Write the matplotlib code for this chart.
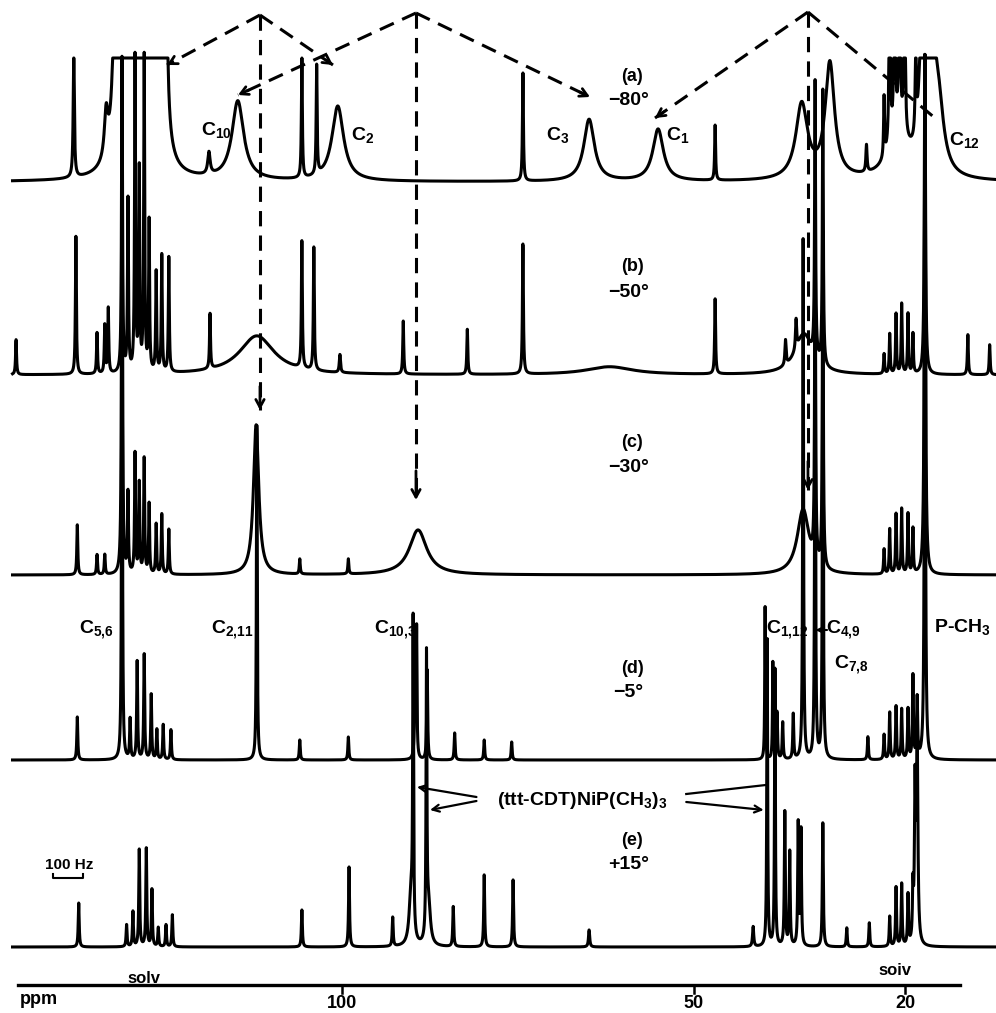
import numpy as np
import matplotlib.pyplot as plt

plt.rcParams['font.family'] = ['Liberation Sans', 'DejaVu Sans']
plt.rcParams['font.weight'] = 'bold'
plt.rcParams['mathtext.fontset'] = 'custom'
plt.rcParams['mathtext.rm'] = 'Liberation Sans:bold'
plt.rcParams['mathtext.it'] = 'Liberation Sans:bold'
plt.rcParams['mathtext.bf'] = 'Liberation Sans:bold'

# ---- peak lists: shift (ppm), height, half width (ppm)
# (a) -80 deg
a_ppm = [138.1, 133.5, 132.0, 131.25, 130.4, 129.4, 128.8, 128.1, 127.4, 126.4, 125.6, 125.1,
         118.9, 114.8, 105.7, 103.6, 100.6, 74.3, 64.9, 55.1, 47.0, 34.7, 30.7, 25.5,
         23.0, 22.2, 21.5, 20.8, 20.1, 21.0, 18.5, 17.4, 16.4, 15.3]
a_h = [124, 45, 400, 400, 400, 400, 400, 400, 400, 400, 400, 400,
       22, 79, 120, 109, 75, 108, 62, 52, 55, 75, 115, 27,
       60, 300, 300, 300, 300, 50, 82, 400, 400, 70]
a_w = [0.1, 0.3, 0.3, 0.3, 0.3, 0.3, 0.3, 0.3, 0.3, 0.3, 0.3, 0.15,
       0.2, 1.0, 0.08, 0.08, 1.0, 0.08, 0.9, 0.9, 0.08, 1.0, 0.8, 0.1,
       0.08, 0.08, 0.08, 0.08, 0.08, 1.5, 0.1, 0.3, 0.3, 0.9]

# (b) -50 deg
b_ppm = [146.3, 137.8, 134.8, 133.7, 133.2, 131.25, 130.4, 129.4, 128.8, 128.1, 127.4, 126.4,
         125.6, 124.6, 118.75, 112.1, 105.7, 104.0, 100.3, 91.3, 82.2, 74.3, 62.0, 47.0,
         37.0, 35.5, 34.4, 32.8, 31.7, 23.0, 22.2, 21.3, 20.5, 19.6, 18.9, 17.2, 11.1, 8.0]
b_h = [35, 138, 41, 48, 65, 315, 172, 315, 200, 315, 150, 100,
       117, 115, 55, 39, 127, 123, 18, 53, 45, 130, 8, 75,
       25, 30, 40, 275, 275, 20, 40, 60, 70, 60, 40, 320, 40, 30]
b_w = [0.08, 0.08, 0.08, 0.08, 0.08, 0.08, 0.08, 0.08, 0.08, 0.08, 0.08, 0.08,
       0.08, 0.08, 0.08, 3.0, 0.08, 0.08, 0.1, 0.08, 0.08, 0.08, 4.0, 0.08,
       0.1, 0.1, 1.5, 0.08, 0.08, 0.08, 0.08, 0.08, 0.08, 0.08, 0.08, 0.1, 0.08, 0.08]

# (c) -30 deg
c_ppm = [137.6, 134.8, 133.7, 131.25, 130.4, 129.4, 128.8, 128.1, 127.4, 126.4, 125.6, 124.6,
         112.2, 106.0, 99.1, 89.2, 34.5, 32.8, 31.7, 23.0, 22.2, 21.3, 20.5, 19.6, 18.9, 17.2]
c_h = [50, 20, 20, 500, 80, 120, 90, 115, 70, 50, 60, 45,
       150, 15, 15, 45, 65, 335, 335, 25, 45, 60, 65, 60, 45, 520]
c_w = [0.08, 0.08, 0.08, 0.08, 0.08, 0.08, 0.08, 0.08, 0.08, 0.08, 0.08, 0.08,
       0.45, 0.08, 0.08, 1.5, 1.0, 0.08, 0.08, 0.08, 0.08, 0.08, 0.08, 0.08, 0.08, 0.1]

# (d) -5 deg
d_ppm = [137.6, 131.25, 130.1, 129.1, 128.1, 127.1, 126.3, 125.4, 124.3, 112.1, 106.0, 99.1,
         89.6, 89.4, 87.9, 84.0, 79.8, 75.9, 39.9, 38.8, 38.2, 37.4, 35.9, 34.5, 32.8, 31.7,
         25.3, 23.0, 22.2, 21.3, 20.5, 19.6, 18.9, 18.3, 17.2]
d_h = [43, 700, 40, 98, 105, 65, 30, 35, 30, 335, 20, 23,
       80, 120, 90, 27, 20, 18, 153, 97, 47, 37, 45, 520, 520, 520,
       23, 25, 47, 53, 50, 50, 83, 60, 705]
d_w = [0.08, 0.06, 0.08, 0.08, 0.08, 0.08, 0.08, 0.08, 0.08, 0.07, 0.08, 0.08,
       0.1, 0.06, 0.08, 0.08, 0.08, 0.08, 0.06, 0.06, 0.08, 0.08, 0.08, 0.07, 0.07, 0.07,
       0.08, 0.08, 0.08, 0.08, 0.08, 0.08, 0.08, 0.08, 0.08]

# (e) +15 deg
e_ppm = [137.4, 130.6, 129.7, 128.8, 127.8, 127.0, 126.1, 125.0, 124.1, 105.7, 99.0, 92.8,
         90.2, 89.9, 88.0, 87.7, 84.2, 79.8, 75.7, 64.9, 41.6, 39.6, 38.5, 37.1, 36.4, 35.2,
         34.8, 31.7, 28.3, 25.1, 22.2, 21.3, 20.5, 19.6, 18.9, 18.6, 18.3]
e_h = [44, 22, 35, 97, 98, 57, 19, 22, 32, 37, 80, 29,
       52, 307, 277, 42, 40, 72, 67, 17, 20, 307, 277, 134, 94, 122,
       115, 124, 19, 24, 30, 59, 62, 50, 50, 150, 207]
e_w = [0.08, 0.08, 0.08, 0.08, 0.08, 0.08, 0.08, 0.08, 0.08, 0.08, 0.08, 0.08,
       0.3, 0.07, 0.07, 0.3, 0.08, 0.08, 0.08, 0.1, 0.1, 0.07, 0.07, 0.08, 0.08, 0.08,
       0.08, 0.08, 0.08, 0.08, 0.08, 0.08, 0.08, 0.08, 0.08, 0.1, 0.12]

spectra = [(a_ppm, a_h, a_w), (b_ppm, b_h, b_w), (c_ppm, c_h, c_w),
           (d_ppm, d_h, d_w), (e_ppm, e_h, e_w)]
baselines = [182, 375, 575, 760, 947]
clips = [124, None, None, None, None]
run_ids = ['(a)', '(b)', '(c)', '(d)', '(e)']
temps = ['−80°', '−50°', '−30°', '−5°', '+15°']

fig = plt.figure(figsize=(9.96, 10.13), dpi=100)
ax = fig.add_axes([0, 0, 1, 1])
ax.set_xlim(148.58, 7.10)
ax.set_ylim(1013, 0)
ax.axis('off')

x = np.linspace(146.8, 7.1, 30000)
for (pp, hh, ww), base, clip in zip(spectra, baselines, clips):
    sig = np.zeros_like(x)
    for p0, h0, w0 in zip(pp, hh, ww):
        sig += h0 * w0 ** 2 / ((x - p0) ** 2 + w0 ** 2)
    if clip is not None:
        sig = np.minimum(sig, clip)
    ax.plot(x, base - sig, color='black', lw=2.2, solid_joinstyle='round')

# run / temperature labels
id_y = [76, 266, 442, 668, 840]
t_y = [100, 292, 467, 692, 864]
for rid, tt, iy, ty in zip(run_ids, temps, id_y, t_y):
    ax.text(58.8, iy, rid, ha='center', va='center', fontsize=13)
    ax.text(59.3, ty, tt, ha='center', va='center', fontsize=14)


# dashed exchange arrows
def dashed_arrow(p0, p1, head=True):
    ax.plot([p0[0], p1[0]], [p0[1], p1[1]], color='black', lw=2.2,
            dashes=(5, 3), solid_capstyle='butt')
    if head:
        q = (p1[0] - 0.06 * (p1[0] - p0[0]), p1[1] - 0.06 * (p1[1] - p0[1]))
        ax.annotate('', xy=p1, xytext=q,
                    arrowprops=dict(arrowstyle='->,head_length=0.55,head_width=0.3',
                                    lw=2.0, color='black', shrinkA=0, shrinkB=0))


apex1 = (111.65, 15)
apex2 = (89.49, 13)
apex3 = (33.81, 12)
dashed_arrow(apex1, (124.86, 65))
dashed_arrow(apex1, (101.28, 65))
dashed_arrow(apex1, (111.65, 410))
dashed_arrow(apex2, (114.77, 95))
dashed_arrow(apex2, (64.77, 97))
dashed_arrow(apex2, (89.49, 500))
dashed_arrow(apex3, (55.54, 118))
dashed_arrow(apex3, (15.77, 118), head=False)
dashed_arrow(apex3, (33.81, 490))

# carbon labels
fs = 14
ax.text(117.9, 130, r'C$_{10}$', ha='center', va='center', fontsize=fs)
ax.text(97.0, 135, r'C$_{2}$', ha='center', va='center', fontsize=fs)
ax.text(69.3, 135, r'C$_{3}$', ha='center', va='center', fontsize=fs)
ax.text(52.3, 135, r'C$_{1}$', ha='center', va='center', fontsize=fs)
ax.text(11.6, 140, r'C$_{12}$', ha='center', va='center', fontsize=fs)

ax.text(134.9, 630, r'C$_{5{,}6}$', ha='center', va='center', fontsize=fs)
ax.text(115.6, 630, r'C$_{2{,}11}$', ha='center', va='center', fontsize=fs)
ax.text(92.5, 630, r'C$_{10{,}3}$', ha='center', va='center', fontsize=fs)
ax.text(36.8, 630, r'C$_{1{,}12}$', ha='center', va='center', fontsize=fs)
ax.text(31.2, 630, r'C$_{4{,}9}$', ha='left', va='center', fontsize=fs)
ax.annotate('', xy=(32.75, 630), xytext=(31.1, 630),
            arrowprops=dict(arrowstyle='->,head_length=0.4,head_width=0.2', lw=1.5,
                            color='black', shrinkA=0, shrinkB=0))
ax.text(27.6, 665, r'C$_{7{,}8}$', ha='center', va='center', fontsize=fs)
ax.text(11.8, 627, r'P-CH$_{3}$', ha='center', va='center', fontsize=fs)

# complex assignment with pointers
ax.text(65.9, 800, r'(ttt-CDT)NiP(CH$_3$)$_3$', ha='center', va='center', fontsize=14)
hp = dict(arrowstyle='->,head_length=0.5,head_width=0.25', lw=1.6, color='black',
          shrinkA=0, shrinkB=0)
ax.annotate('', xy=(89.35, 787), xytext=(80.9, 797), arrowprops=hp)
ax.annotate('', xy=(87.5, 810), xytext=(80.9, 801), arrowprops=hp)
ax.plot([51.1, 39.8], [794, 785], color='black', lw=1.6)
ax.annotate('', xy=(40.1, 810), xytext=(51.1, 802), arrowprops=hp)

# 100 Hz scale bar
ax.text(138.8, 865, '100 Hz', ha='center', va='center', fontsize=11)
ax.plot([141.05, 141.05, 136.8, 136.8], [874, 878, 878, 874], color='black', lw=1.5)

# ppm axis
ax.plot([146.0, 12.2], [985, 985], color='black', lw=2.4)
for tv in [100, 50, 20]:
    ax.plot([tv, tv], [985, 993], color='black', lw=1.8)
    ax.text(tv, 1003, str(tv), ha='center', va='center', fontsize=13)
ax.text(145.8, 999, 'ppm', ha='left', va='center', fontsize=13)
ax.text(128.1, 978, 'solv', ha='center', va='center', fontsize=12)
ax.text(21.45, 970, 'soiv', ha='center', va='center', fontsize=12)

fig.savefig('out.png', dpi=100)
